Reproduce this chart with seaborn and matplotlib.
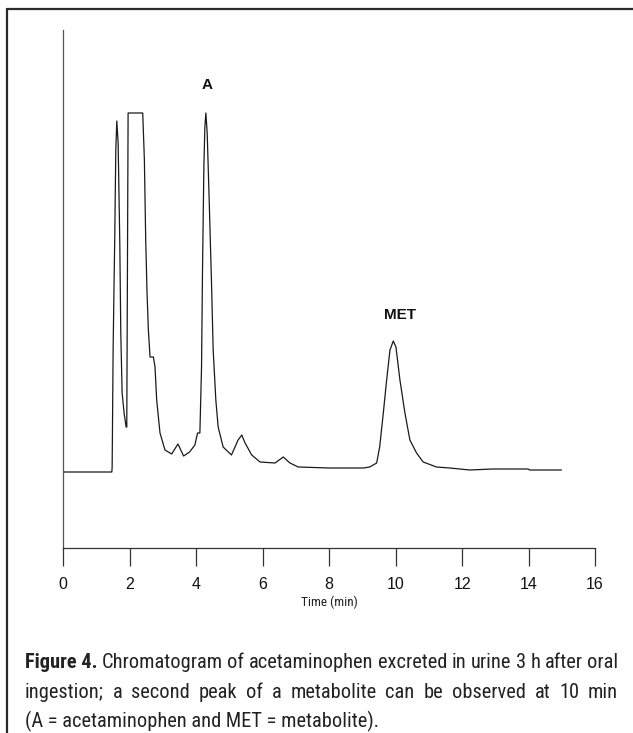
import matplotlib
matplotlib.use("Agg")
import matplotlib.pyplot as plt
import matplotlib.font_manager as fm
import seaborn as sns
import pandas as pd

# chromatogram trace (time in min, detector signal in arbitrary units above baseline)
time_min = [0.0, 1.46, 1.47, 1.50, 1.55, 1.58, 1.61, 1.65, 1.70, 1.73, 1.77, 1.83, 1.89, 1.91,
            1.95, 2.39, 2.44, 2.48, 2.52, 2.56, 2.61, 2.71, 2.76, 2.81, 2.91, 3.06, 3.26, 3.45,
            3.62, 3.80, 3.96, 4.04, 4.11, 4.16, 4.19, 4.23, 4.26, 4.29, 4.33, 4.39, 4.46, 4.51,
            4.59, 4.66, 4.81, 5.06, 5.26, 5.37, 5.47, 5.67, 5.92, 6.37, 6.62, 6.82, 7.07, 8.0,
            9.03, 9.22, 9.43, 9.52, 9.63, 9.73, 9.83, 9.93, 10.01, 10.13, 10.28, 10.43, 10.63,
            10.83, 11.23, 11.63, 12.23, 12.93, 13.98, 14.04, 14.99]
signal = [0, 0, 5, 125, 239, 322, 351, 329, 229, 139, 79, 59, 45, 45,
          359, 359, 312, 232, 179, 142, 115, 115, 105, 72, 39, 22, 18, 28,
          16, 20, 27, 39, 39, 105, 205, 305, 345, 359, 339, 272, 189, 122,
          72, 45, 25, 17, 32, 37, 29, 17, 10, 9, 15, 9, 5, 4,
          4, 5, 9, 25, 59, 92, 122, 131, 125, 92, 59, 32, 19,
          10, 5, 4, 2, 3, 3, 2, 2]

x_ticks = [0, 2, 4, 6, 8, 10, 12, 14, 16]
peak_names = ["A", "MET"]
peak_name_time = [4.34, 10.12]
peak_name_signal = [380, 150]

caption_l1 = [("Figure 4.", True), ("Chromatogram", False), ("of", False),
              ("acetaminophen", False), ("excreted", False), ("in", False), ("urine", False),
              ("3", False), ("h", False), ("after", False), ("oral", False)]
caption_l2 = "ingestion; a second peak of a metabolite can be observed at 10 min"
caption_l3 = "(A = acetaminophen and MET = metabolite)."

W, H = 633, 733
tick_font = ["Liberation Sans", "DejaVu Sans"]


def pick_narrow(bold):
    # look for a condensed / narrow sans face among the installed fonts
    want = "bold" if bold else "normal"
    prefs = ["Liberation Sans Narrow", "Roboto Condensed", "Open Sans Condensed",
             "Noto Sans Condensed", "DejaVu Sans"]
    found = {}
    for f in fm.fontManager.ttflist:
        narrow = ("Narrow" in f.name or "Condensed" in f.name or "Condensed" in f.fname
                  or f.stretch in ("condensed", "semi-condensed"))
        if not narrow or f.style != "normal":
            continue
        w = f.weight if isinstance(f.weight, int) else (700 if f.weight == "bold" else 400)
        if (w >= 600) != bold:
            continue
        found.setdefault(f.name, f.fname)
    for p in prefs:
        if p in found:
            return fm.FontProperties(fname=found[p])
    if found:
        return fm.FontProperties(fname=sorted(found.values())[0])
    return fm.FontProperties(family="DejaVu Sans", weight=want)


cap_reg = pick_narrow(False)
cap_bold = pick_narrow(True)

sns.set_style("white")
fig = plt.figure(figsize=(W / 100, H / 100), dpi=100)

# axes placed so that 0..16 min spans the same pixels as the reference
left, right, top, bottom = 63.3, 595, 30, 548
ax = fig.add_axes([left / W, 1 - bottom / H, (right - left) / W, (bottom - top) / H])

df = pd.DataFrame({"time": time_min, "signal": signal})
sns.lineplot(data=df, x="time", y="signal", ax=ax, sort=False, estimator=None,
             color="#1a1a1a", linewidth=0.9)

ax.set_xlim(0, 16)
ax.set_ylim(-76, 442)
ax.set_xticks(x_ticks)
ax.set_xticklabels([str(v) for v in x_ticks], fontsize=11.5, family=tick_font)
ax.set_yticks([])
ax.set_xlabel("")
ax.set_ylabel("")
ax.tick_params(axis="x", direction="out", length=13, width=0.9, color="#333333",
               pad=8, bottom=True, labelcolor="#111111")
for s in ["top", "right"]:
    ax.spines[s].set_visible(False)
ax.spines["left"].set_color("#555555")
ax.spines["bottom"].set_color("#333333")
ax.spines["left"].set_linewidth(0.9)
ax.spines["bottom"].set_linewidth(0.9)
ax.patch.set_alpha(0)

for name, t, s in zip(peak_names, peak_name_time, peak_name_signal):
    ax.text(t, s, name, ha="center", va="bottom", fontsize=11, fontweight="bold",
            family=tick_font, color="#111111")

lab = cap_reg.copy()
lab.set_size(9.5)
fig.text(329 / W, 1 - 606 / H, "Time (min)", ha="center", va="baseline",
         fontproperties=lab, color="#222222")

# page frame (cropped on the right and bottom)
fig.add_artist(plt.Line2D([7 / W, 7 / W], [0, 1 - 9 / H], transform=fig.transFigure,
                          color="#2a2a2a", linewidth=1.6))
fig.add_artist(plt.Line2D([7 / W, 1], [1 - 9 / H, 1 - 9 / H], transform=fig.transFigure,
                          color="#2a2a2a", linewidth=1.6))

renderer = fig.canvas.get_renderer()
x0, x1 = 25, 618


def measure(words, size):
    texts = []
    for w, bold in words:
        fp = (cap_bold if bold else cap_reg).copy()
        fp.set_size(size)
        texts.append(fig.text(0, 0, w, fontproperties=fp))
    widths = [t.get_window_extent(renderer).width for t in texts]
    for t in texts:
        t.remove()
    return widths


# largest size at which both justified lines keep at least a normal word space
l2_words = [(w, False) for w in caption_l2.split()]
cap_size = 17.0
while cap_size > 8:
    ok = True
    for words in (caption_l1, l2_words):
        ws = measure(words, cap_size)
        if (x1 - x0 - sum(ws)) / (len(ws) - 1) < cap_size * 0.3:
            ok = False
    if ok:
        break
    cap_size -= 0.1


def justified_line(words, base_y):
    widths = measure(words, cap_size)
    gap = (x1 - x0 - sum(widths)) / (len(words) - 1)
    x = x0
    for (w, bold), wd in zip(words, widths):
        fp = (cap_bold if bold else cap_reg).copy()
        fp.set_size(cap_size)
        fig.text(x / W, 1 - base_y / H, w, fontproperties=fp, va="baseline", color="#222222")
        x += wd + gap


justified_line(caption_l1, 668)
justified_line(l2_words, 698)
fp3 = cap_reg.copy()
fp3.set_size(cap_size)
fig.text(x0 / W, 1 - 727 / H, caption_l3, fontproperties=fp3, va="baseline", color="#222222")

fig.savefig("out.png", dpi=100)
